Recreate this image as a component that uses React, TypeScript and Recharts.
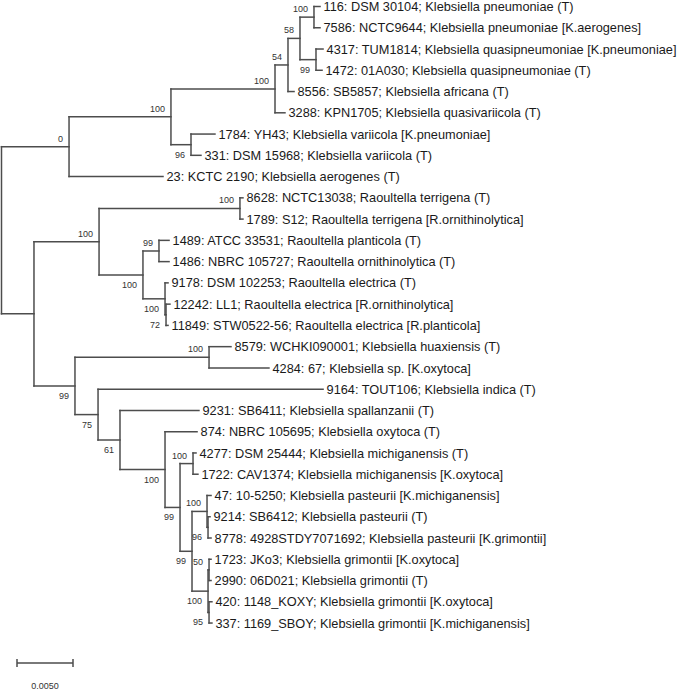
import { ComposedChart, XAxis, YAxis, Scatter, ReferenceLine } from 'recharts';

// tip labels, top to bottom
const leafLabels = [
  '116: DSM 30104; Klebsiella pneumoniae (T)',
  '7586: NCTC9644; Klebsiella pneumoniae [K.aerogenes]',
  '4317: TUM1814; Klebsiella quasipneumoniae [K.pneumoniae]',
  '1472: 01A030; Klebsiella quasipneumoniae (T)',
  '8556: SB5857; Klebsiella africana (T)',
  '3288: KPN1705; Klebsiella quasivariicola (T)',
  '1784: YH43; Klebsiella variicola [K.pneumoniae]',
  '331: DSM 15968; Klebsiella variicola (T)',
  '23: KCTC 2190; Klebsiella aerogenes (T)',
  '8628: NCTC13038; Raoultella terrigena (T)',
  '1789: S12; Raoultella terrigena [R.ornithinolytica]',
  '1489: ATCC 33531; Raoultella planticola (T)',
  '1486: NBRC 105727; Raoultella ornithinolytica (T)',
  '9178: DSM 102253; Raoultella electrica (T)',
  '12242: LL1; Raoultella electrica [R.ornithinolytica]',
  '11849: STW0522-56; Raoultella electrica [R.planticola]',
  '8579: WCHKI090001; Klebsiella huaxiensis (T)',
  '4284: 67; Klebsiella sp. [K.oxytoca]',
  '9164: TOUT106; Klebsiella indica (T)',
  '9231: SB6411; Klebsiella spallanzanii (T)',
  '874: NBRC 105695; Klebsiella oxytoca (T)',
  '4277: DSM 25444; Klebsiella michiganensis (T)',
  '1722: CAV1374; Klebsiella michiganensis [K.oxytoca]',
  '47: 10-5250; Klebsiella pasteurii [K.michiganensis]',
  '9214: SB6412; Klebsiella pasteurii (T)',
  '8778: 4928STDY7071692; Klebsiella pasteurii [K.grimontii]',
  '1723: JKo3; Klebsiella grimontii [K.oxytoca]',
  '2990: 06D021; Klebsiella grimontii (T)',
  '420: 1148_KOXY; Klebsiella grimontii [K.oxytoca]',
  '337: 1169_SBOY; Klebsiella grimontii [K.michiganensis]',
];

// distance from root for each tip
const leafDepths = [
  0.02844, 0.02844, 0.02871, 0.02862, 0.02612, 0.02531, 0.01906, 0.01781, 0.01442, 0.02156,
  0.02156, 0.01496, 0.01496, 0.01487, 0.01504, 0.01487, 0.02049, 0.02388, 0.02871, 0.01763,
  0.01746, 0.01737, 0.01754, 0.01871, 0.01862, 0.01871, 0.01871, 0.01871, 0.01879, 0.01879,
];

// internal nodes
const nodeIds = [
  'root', 'A', 'A1', 'A2', 'A3', 'A4', 'P', 'Q', 'V', 'B', 'R', 'R1', 'R2', 'R3', 'R4',
  'R5', 'K2', 'H', 'K3', 'K4', 'K5', 'K6', 'M', 'K7', 'PA', 'PA2', 'G', 'G1', 'G2',
];
const nodeDepths = [
  0, 0.00603, 0.01513, 0.02442, 0.02558, 0.02665, 0.0279, 0.02808, 0.01692, 0.0029, 0.00871,
  0.02129, 0.01263, 0.01406, 0.0146, 0.01469, 0.00656, 0.01853, 0.00862, 0.01058, 0.0146,
  0.01594, 0.0171, 0.01701, 0.01835, 0.01844, 0.01844, 0.01853, 0.01853,
];
const nodeSupports: (number | null)[] = [
  null, 0, 100, 100, 54, 58, 100, 99, 96, null, 100, 100, 100, 99, 100, 72, 99, 100, 75, 61,
  100, 99, 100, 99, 100, 96, 100, 50, 95,
];
// children: numbers are tip indexes, strings are node ids
const nodeChildren: (number | string)[][] = [
  ['A', 'B'], ['A1', 8], ['A2', 'V'], ['A3', 5], ['A4', 4], ['P', 'Q'], [0, 1], [2, 3], [6, 7],
  ['R', 'K2'], ['R1', 'R2'], [9, 10], ['R3', 'R4'], [11, 12], [13, 'R5'], [14, 15], ['H', 'K3'],
  [16, 17], [18, 'K4'], [19, 'K5'], [20, 'K6'], ['M', 'K7'], [21, 22], ['PA', 'G'], [23, 'PA2'],
  [24, 25], ['G1', 'G2'], [26, 27], [28, 29],
];

const scaleBarLength = 0.005;
const scaleBarLabel = '0.0050';

// px layout: 11200 px per unit of distance, 21.26 px per tip row
const W = 682;
const H = 690;
const PX_PER_UNIT = 11200;
const ROW = 21.26;
const xMin = -1.5 / PX_PER_UNIT;
const xMax = xMin + W / PX_PER_UNIT;
const yMin = -6.5 / ROW;
const yMax = yMin + H / ROW;

const LINE = '#4d4d4d';
const FONT = '"Liberation Sans", Arial, sans-serif';

type Pos = { x: number; y: number };

const placed = new Map<string, Pos>();
function place(ref: number | string): Pos {
  if (typeof ref === 'number') return { x: leafDepths[ref], y: ref };
  if (placed.has(ref)) return placed.get(ref)!;
  const i = nodeIds.indexOf(ref);
  const kids = nodeChildren[i].map(place);
  const pos = { x: nodeDepths[i], y: (kids[0].y + kids[kids.length - 1].y) / 2 };
  placed.set(ref, pos);
  return pos;
}
place('root');

const hSegs: { x1: number; x2: number; y: number }[] = [];
const vSegs: { x: number; y1: number; y2: number }[] = [];
const supportPoints: { x: number; y: number; label: number; above: boolean }[] = [];

nodeIds.forEach((id, i) => {
  const p = placed.get(id)!;
  const kids = nodeChildren[i];
  const kidPos = kids.map(place);
  vSegs.push({ x: p.x, y1: kidPos[0].y, y2: kidPos[kidPos.length - 1].y });
  kidPos.forEach((c) => hSegs.push({ x1: p.x, x2: c.x, y: c.y }));
  kids.forEach((k, j) => {
    if (typeof k === 'string') {
      const ki = nodeIds.indexOf(k);
      const s = nodeSupports[ki];
      if (s !== null) {
        const c = placed.get(k)!;
        supportPoints.push({ x: c.x, y: c.y, label: s, above: j === 0 });
      }
    }
  });
});

const leafPoints = leafLabels.map((name, i) => ({ x: leafDepths[i], y: i, name }));

const barX1 = 15.5 / PX_PER_UNIT;
const barX2 = barX1 + scaleBarLength;
const barY = (663 - 6.5) / ROW;
const tickH = 4 / ROW;
const barLabelPoint = [{ x: (barX1 + barX2) / 2, y: barY }];

export default function App() {
  return (
    <div style={{ width: W, height: H }}>
      <style>{'body{margin:0}'}</style>
      <ComposedChart width={W} height={H} margin={{ top: 0, right: 0, bottom: 0, left: 0 }}>
        <XAxis type="number" dataKey="x" domain={[xMin, xMax]} allowDataOverflow hide />
        <YAxis type="number" dataKey="y" domain={[yMin, yMax]} allowDataOverflow reversed hide />

        {hSegs.map((s, i) => (
          <ReferenceLine
            key={`h-${i}`}
            segment={[{ x: s.x1, y: s.y }, { x: s.x2, y: s.y }]}
            stroke={LINE}
            strokeWidth={1.5}
            strokeLinecap="square"
            ifOverflow="visible"
          />
        ))}
        {vSegs.map((s, i) => (
          <ReferenceLine
            key={`v-${i}`}
            segment={[{ x: s.x, y: s.y1 }, { x: s.x, y: s.y2 }]}
            stroke={LINE}
            strokeWidth={1.5}
            strokeLinecap="square"
            ifOverflow="visible"
          />
        ))}

        {/* scale bar */}
        <ReferenceLine segment={[{ x: barX1, y: barY }, { x: barX2, y: barY }]} stroke={LINE} strokeWidth={1.5} ifOverflow="visible" />
        <ReferenceLine segment={[{ x: barX1, y: barY - tickH }, { x: barX1, y: barY + tickH }]} stroke={LINE} strokeWidth={1.5} ifOverflow="visible" />
        <ReferenceLine segment={[{ x: barX2, y: barY - tickH }, { x: barX2, y: barY + tickH }]} stroke={LINE} strokeWidth={1.5} ifOverflow="visible" />
        <Scatter
          data={barLabelPoint}
          isAnimationActive={false}
          shape={(p: any) => (
            <text x={p.cx} y={p.cy + 26} textAnchor="middle" fontSize={9} fontFamily={FONT} fill="#333">
              {scaleBarLabel}
            </text>
          )}
        />

        <Scatter
          data={leafPoints}
          isAnimationActive={false}
          shape={(p: any) => (
            <text x={p.cx + 3.5} y={p.cy} dy="0.36em" fontSize={12.75} fontFamily={FONT} fill="#1a1a1a">
              {p.payload.name}
            </text>
          )}
        />
        <Scatter
          data={supportPoints}
          isAnimationActive={false}
          shape={(p: any) => (
            <text
              x={p.cx - 6}
              y={p.payload.above ? p.cy - 5 : p.cy + 13}
              textAnchor="end"
              fontSize={9}
              fontFamily={FONT}
              fill="#333"
            >
              {p.payload.label}
            </text>
          )}
        />
      </ComposedChart>
    </div>
  );
}
